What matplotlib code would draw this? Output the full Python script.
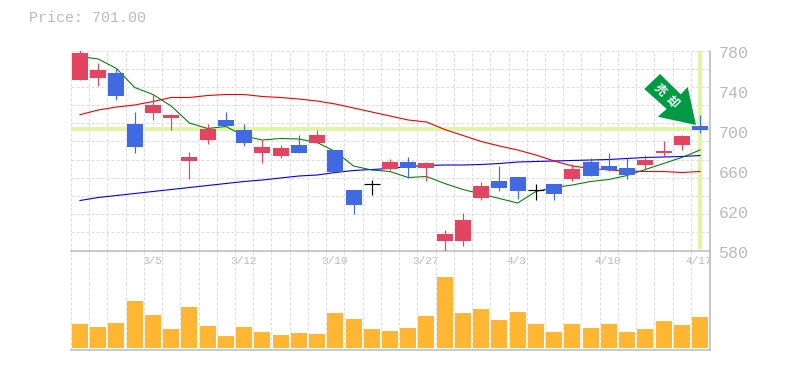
import matplotlib
matplotlib.use('Agg')
import matplotlib.pyplot as plt
from matplotlib.patches import Polygon

opens = [750.5, 752.8, 757.5, 706.5, 717.8, 712.5, 669.5, 690.5, 710.5, 700.5, 677.5, 674.5,
         685.5, 687.5, 680.5, 640.5, 646.5, 661.5, 668.5, 662.5, 589.5, 589.5, 632.5, 649.5,
         653.5, 640.2, 646.5, 651.5, 668.5, 664.5, 662.5, 665.5, 677.5, 685.5, 704.5]
closes = [777.2, 760.5, 734.8, 683.8, 725.5, 715.5, 673.5, 701.5, 704.5, 687.5, 683.5, 682.5,
          677.5, 695.5, 658.5, 625.5, 646.5, 668.5, 662.5, 667.5, 596.5, 610.5, 644.5, 642.5,
          639.5, 640.2, 636.5, 661.5, 654.5, 660.5, 655.5, 670.5, 679.5, 694.5, 701.0]
highs = [780.5, 767.5, 763.0, 718.5, 735.5, 717.0, 678.5, 706.5, 718.5, 706.5, 690.5, 685.5,
         695.5, 700.5, 681.0, 640.5, 650.5, 671.5, 673.5, 668.5, 600.5, 617.5, 648.5, 664.5,
         653.5, 647.0, 646.5, 666.5, 672.5, 677.5, 672.5, 675.5, 689.5, 695.5, 715.5]
lows = [750.5, 744.5, 730.5, 677.8, 710.5, 700.5, 651.5, 686.5, 704.5, 684.5, 667.5, 672.5,
        677.5, 687.5, 658.5, 616.5, 635.5, 660.5, 652.5, 649.5, 579.5, 584.5, 630.5, 639.5,
        631.5, 630.5, 630.5, 649.5, 654.5, 659.5, 651.5, 660.5, 674.5, 680.5, 697.5]
volumes = [24, 21, 25, 47, 33, 19, 41, 22, 12, 21, 16, 13, 15, 14, 35, 29, 19, 17,
           20, 32, 71, 35, 39, 28, 36, 24, 16, 24, 20, 24, 16, 19, 27, 23, 31]
ma_short = [774, 771.5, 762, 743, 736, 724.5, 707.5, 702, 704, 694.5, 690.5, 692,
            691.5, 688, 679, 664.5, 660.5, 659, 653, 654, 647, 641, 636.5, 632,
            627.5, 639, 643, 645.5, 649, 651, 655, 661, 667, 673, 680.5]
ma_mid = [715.8, 720.5, 723.5, 725.5, 729, 733, 733, 735, 736, 736, 734, 733,
          731.5, 729.5, 726.5, 722.5, 718.5, 714.5, 710.5, 708.5, 701, 695, 689, 684.5,
          680.5, 675.5, 669.5, 664.5, 662, 660.5, 659.5, 659, 659, 658, 659]
ma_long = [630, 633, 635, 637, 639, 641, 643, 645, 647, 649, 650.5, 652.5,
           654.5, 655.5, 658, 660, 661, 662, 664, 665, 665.5, 665.5, 666, 667,
           668.5, 669, 669.5, 670, 670.5, 671, 672, 673, 673.5, 674, 675]
date_pos = [4, 9, 14, 19, 24, 29, 34]
date_labels = ['3/5', '3/12', '3/19', '3/27', '4/3', '4/10', '4/17']
price_ticks = [580, 620, 660, 700, 740, 780]
last_price = 701

W, H = 785, 370
RED = '#e24462'
BLUE = '#4169e1'
GRAY = '#bbbbbb'
LIME = '#dff5a0'
GRID = '#dddddd'
MONO = 'Liberation Mono'

fig = plt.figure(figsize=(W / 100, H / 100), dpi=100)


def px_axes(left, top, right, bottom):
    return fig.add_axes([left / W, 1 - bottom / H, (right - left) / W, (bottom - top) / H])


ax = px_axes(70.5, 50.5, 709.5, 250.5)
vol = px_axes(70.5, 250.5, 709.5, 350)

x = list(range(len(closes)))
xlim = (-0.52, 34.52)
grid_x = [i - 0.5 for i in range(36)]
dash = (0, (2.7, 1.8))

# price panel
ax.set_xlim(xlim)
ax.set_ylim(580, 780)
ax.set_xticks(grid_x)
ax.set_yticks([580 + i * 200 / 11 for i in range(12)])
ax.grid(True, color=GRID, ls=dash, lw=0.8)
ax.set_axisbelow(True)
ax.tick_params(length=0, labelbottom=False, labelleft=False)

ax.axhline(last_price + 0.5, color=LIME, lw=2.7, zorder=1)
ax.plot([34, 34], [582, 780], color=LIME, lw=2.7, zorder=1, solid_capstyle='butt')

ax.plot(x, ma_long, color='#0000ee', lw=0.8, zorder=2)
ax.plot(x, ma_mid, color='#ee0000', lw=0.8, zorder=2)
ax.plot(x, ma_short, color='#007700', lw=0.75, zorder=2)

for i in x:
    if closes[i] > opens[i]:
        c = RED
    elif closes[i] < opens[i]:
        c = BLUE
    else:
        c = 'black'
    ax.vlines(i, lows[i], highs[i], color=c, lw=0.85, zorder=3)
    if c == 'black':
        ax.hlines(closes[i], i - 0.44, i + 0.44, color=c, lw=0.85, zorder=3)
    else:
        ax.bar(i, abs(closes[i] - opens[i]), bottom=min(opens[i], closes[i]),
               width=0.88, color=c, lw=0, zorder=3)

# 売却 arrow, in figure pixels
arrow = [(660, 74), (680.7, 94.3), (687.7, 87), (696, 125), (657.7, 116.7), (666.7, 109), (644.3, 89)]
fig.add_artist(Polygon([(a / W, 1 - b / H) for a, b in arrow], closed=True, transform=fig.transFigure,
                       facecolor='#009944', edgecolor='none', zorder=5))
fig.text(660 / W, 1 - 90 / H, '売', color='white', fontsize=8.5, rotation=-45, weight='bold',
         family='Noto Sans CJK JP', ha='center', va='center', zorder=6)
fig.text(672 / W, 1 - 102 / H, '却', color='white', fontsize=8.5, rotation=-45, weight='bold',
         family='Noto Sans CJK JP', ha='center', va='center', zorder=6)

for t in price_ticks:
    ax.annotate(str(t), xy=(1, t), xycoords=ax.get_yaxis_transform(), xytext=(9, -2.5),
                textcoords='offset pixels', color=GRAY, fontsize=12, family=MONO,
                ha='left', va='center', annotation_clip=False)
for p, lab in zip(date_pos, date_labels):
    ax.annotate(lab, xy=(p, 0), xycoords=ax.get_xaxis_transform(), xytext=(-1, -11),
                textcoords='offset pixels', color=GRAY, fontsize=8, family=MONO,
                ha='center', va='center', annotation_clip=False)

# volume panel
vol.set_xlim(xlim)
vol.set_ylim(-2, 97.5)
vol.set_xticks(grid_x)
vol.set_yticks([])
vol.grid(True, axis='x', color=GRID, ls=dash, lw=0.8)
vol.set_axisbelow(True)
vol.tick_params(length=0, labelbottom=False, labelleft=False)
vol.bar(x, volumes, width=0.88, color='#ffb733', lw=0, zorder=3)

for a in (ax, vol):
    a.patch.set_alpha(0)
    for s in a.spines.values():
        s.set_visible(False)
    a.spines['right'].set_visible(True)
    a.spines['right'].set_color(GRAY)
    a.spines['bottom'].set_visible(True)
    a.spines['bottom'].set_color(GRAY)
    a.spines['right'].set_linewidth(1.1)
    a.spines['bottom'].set_linewidth(1.1)

fig.text(29 / W, 1 - 18 / H, 'Price: %.2f' % last_price, color=GRAY, fontsize=10.8, family=MONO,
         ha='left', va='center')

fig.savefig('out.png', dpi=100)
